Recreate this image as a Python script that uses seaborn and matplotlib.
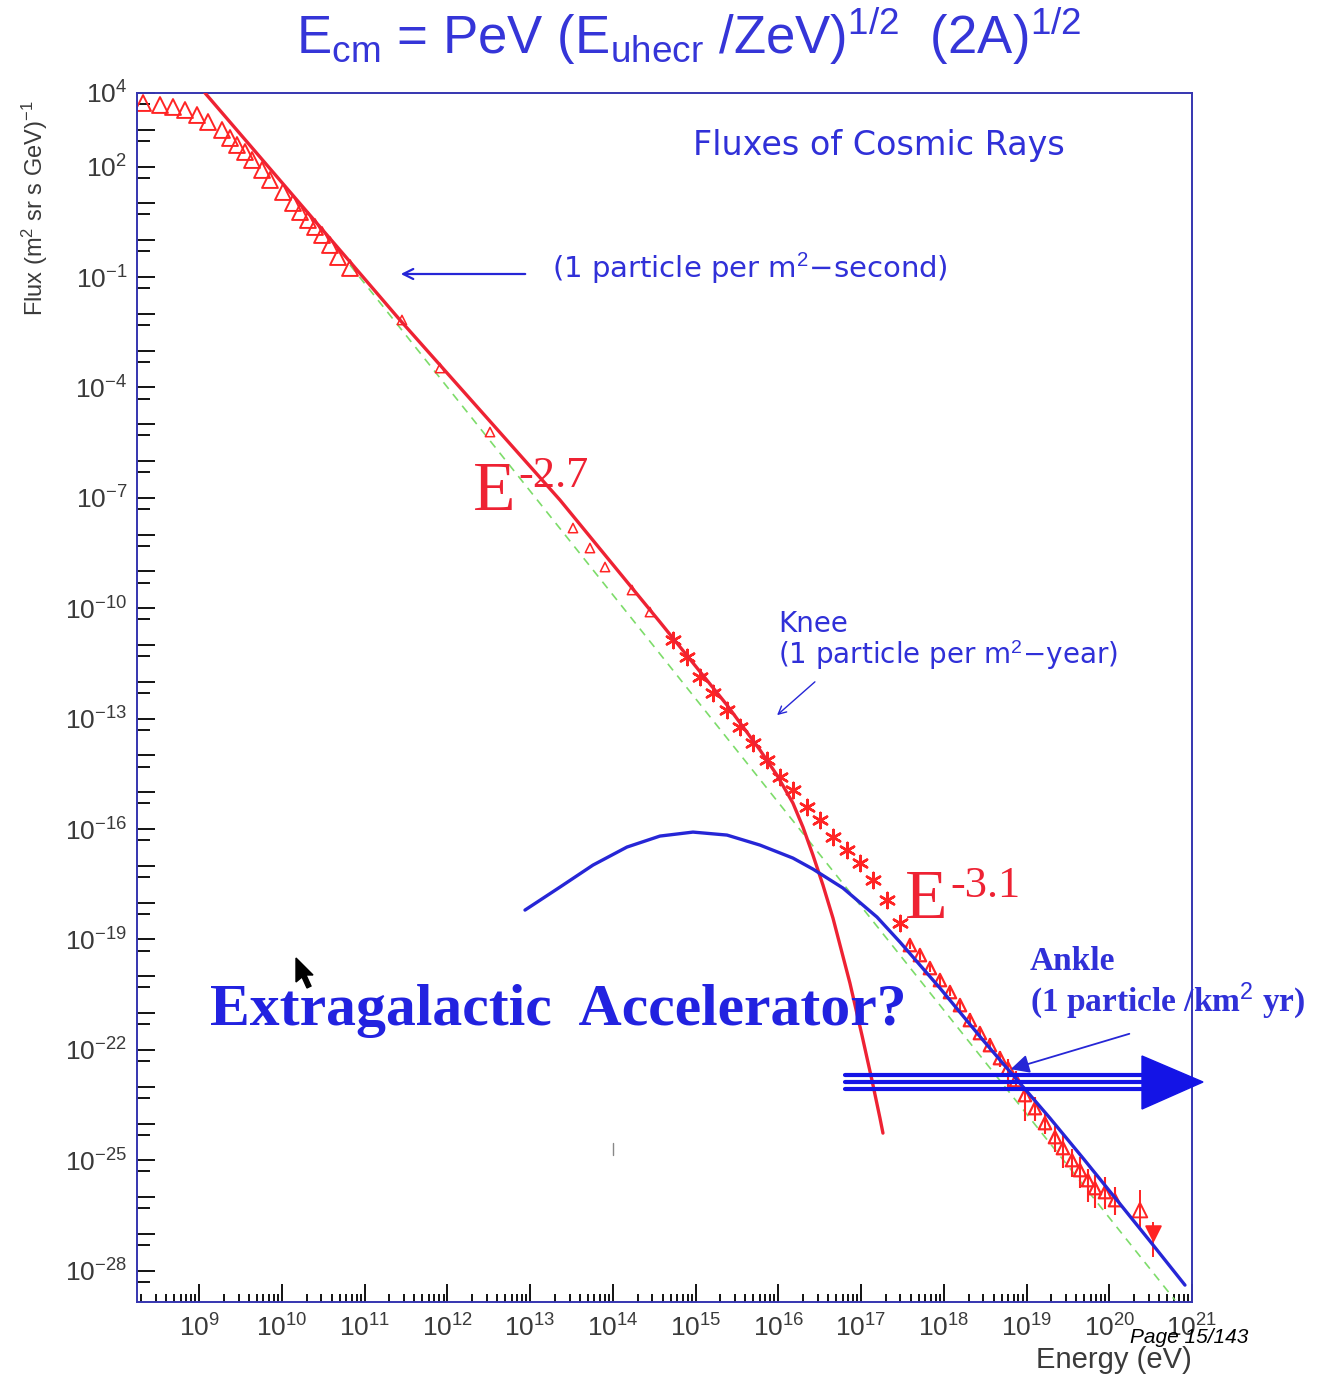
import numpy as np
import pandas as pd
import matplotlib
matplotlib.use("Agg")
import matplotlib.pyplot as plt
import seaborn as sns
from matplotlib.ticker import FixedLocator, FixedFormatter
from matplotlib.patches import Polygon
from matplotlib.lines import Line2D

# ---------------- data (log10 of energy [eV] and flux) ----------------
low_tri_logE = [8.323, 8.528, 8.685, 8.830, 8.975, 9.108, 9.277, 9.374, 9.458, 9.555,
                9.640, 9.761, 9.857, 10.014, 10.135, 10.220, 10.316, 10.401, 10.486,
                10.582, 10.679, 10.824]
low_tri_logF = [3.728, 3.674, 3.620, 3.538, 3.402, 3.212, 2.995, 2.777, 2.587, 2.397,
                2.179, 1.908, 1.636, 1.310, 1.011, 0.766, 0.549, 0.359, 0.141,
                -0.130, -0.457, -0.755]

mid_tri_logE = [11.452, 11.912, 12.516, 13.519, 13.724, 13.906, 14.232, 14.449]
mid_tri_logF = [-2.168, -3.473, -5.212, -7.821, -8.364, -8.880, -9.505, -10.103]

knee_logE = [14.727, 14.897, 15.054, 15.211, 15.380, 15.537, 15.694, 15.863, 16.020,
             16.177, 16.347, 16.504, 16.661, 16.830, 16.987, 17.144, 17.313, 17.471]
knee_logF = [-10.864, -11.326, -11.870, -12.304, -12.766, -13.228, -13.663, -14.125,
             -14.587, -14.940, -15.402, -15.755, -16.217, -16.571, -16.924, -17.386,
             -17.929, -18.554]

ankle_logE = [17.591, 17.712, 17.833, 17.954, 18.075, 18.196, 18.316, 18.437, 18.558,
              18.679, 18.776, 18.872, 18.981, 19.102, 19.223, 19.344, 19.440, 19.549,
              19.646, 19.742, 19.827, 19.948, 20.069]
ankle_logF = [-19.152, -19.424, -19.777, -20.103, -20.429, -20.783, -21.190, -21.543,
              -21.870, -22.223, -22.495, -22.821, -23.228, -23.582, -23.989, -24.370,
              -24.668, -24.995, -25.266, -25.538, -25.755, -25.864, -26.082]
ankle_err_lo = [0.10, 0.12, 0.10, 0.15, 0.12, 0.18, 0.15, 0.20, 0.18, 0.25, 0.50, 0.30,
                0.70, 0.35, 0.30, 0.40, 0.55, 0.45, 0.50, 0.60, 0.55, 0.45, 0.40]
ankle_err_hi = [0.10, 0.10, 0.12, 0.12, 0.15, 0.12, 0.18, 0.15, 0.20, 0.20, 0.25, 0.25,
                0.20, 0.30, 0.25, 0.30, 0.35, 0.30, 0.35, 0.30, 0.35, 0.40, 0.35]

end_up_logE, end_up_logF, end_up_lo, end_up_hi = [20.371], [-26.353], [0.46], [0.54]
end_dn_logE, end_dn_logF, end_dn_lo, end_dn_hi = [20.528], [-26.978], [0.65], [0.30]

galactic_fit_logE = [9.072, 11.428, 13.362, 14.570, 15.380, 15.779, 15.984, 16.177,
                     16.298, 16.419, 16.540, 16.661, 16.866, 17.011, 17.132, 17.229, 17.265]
galactic_fit_logF = [4.0, -2.168, -7.060, -10.375, -12.630, -13.853, -14.533, -15.293,
                     -15.946, -16.707, -17.522, -18.418, -20.185, -21.598, -22.821,
                     -23.853, -24.261]

extragal_logE = [12.939, 13.362, 13.761, 14.171, 14.570, 14.969, 15.380, 15.779, 16.177,
                 16.419, 16.782, 17.193, 17.471, 17.954, 18.474, 18.836, 19.283, 19.682,
                 20.093, 20.492, 20.915]
extragal_logF = [-18.201, -17.576, -16.978, -16.489, -16.190, -16.082, -16.163, -16.435,
                 -16.788, -17.087, -17.603, -18.391, -19.071, -20.321, -21.734, -22.685,
                 -23.853, -24.940, -26.082, -27.196, -28.391]

overall_fit_logE = [10.824, 20.794]
overall_fit_logF = [-0.674, -28.799]

x_tick_exps = list(range(9, 22))
y_label_exps = [4, 2, -1, -4, -7, -10, -13, -16, -19, -22, -25, -28]

# ---------------- style ----------------
sns.set_style("white")
plt.rcParams['font.family'] = ['Liberation Sans', 'DejaVu Sans']
plt.rcParams['mathtext.fontset'] = 'custom'
plt.rcParams['mathtext.rm'] = 'Liberation Sans'
plt.rcParams['mathtext.it'] = 'Liberation Sans:italic'
plt.rcParams['mathtext.bf'] = 'Liberation Sans:bold'

RED = '#ff2424'
RED_LINE = '#ee2233'
BLUE = '#2626d6'
TXT_BLUE = '#3030d8'
GREEN = '#7ddc6a'
TICK_TXT = '#3a3a3a'

W, H = 1342, 1374
fig = plt.figure(figsize=(W / 100, H / 100), dpi=100)
fig.patch.set_facecolor('white')


def fx(x):
    return x / W


def fy(y):
    return 1 - y / H


ax = fig.add_axes([fx(137), fy(1302), (1192 - 137) / W, (1302 - 93) / H])
ax.set_xscale('log')
ax.set_yscale('log')
ax.set_xlim(10 ** 8.25, 10 ** 21.0)
ax.set_ylim(10 ** -28.85, 10 ** 4)


def p10(a):
    return np.power(10.0, np.asarray(a, dtype=float))


# green dashed overall power law
sns.lineplot(x=p10(overall_fit_logE), y=p10(overall_fit_logF), ax=ax, color=GREEN,
             lw=1.2, linestyle=(0, (5, 4)), sort=False, estimator=None, zorder=1)

# data points
df_low = pd.DataFrame({'E': p10(low_tri_logE), 'F': p10(low_tri_logF)})
sns.scatterplot(data=df_low, x='E', y='F', ax=ax, marker='^', s=130,
                facecolor='none', edgecolor=RED, linewidth=1.4, zorder=2)
df_mid = pd.DataFrame({'E': p10(mid_tri_logE), 'F': p10(mid_tri_logF)})
sns.scatterplot(data=df_mid, x='E', y='F', ax=ax, marker='^', s=45,
                facecolor='none', edgecolor=RED, linewidth=1.1, zorder=2)
df_knee = pd.DataFrame({'E': p10(knee_logE), 'F': p10(knee_logF)})
sns.scatterplot(data=df_knee, x='E', y='F', ax=ax, marker=(6, 2, 0), s=120,
                color=RED, linewidth=1.8, zorder=2)

aE, aF = p10(ankle_logE), p10(ankle_logF)
ax.errorbar(aE, aF, yerr=[aF - aF * p10(-np.array(ankle_err_lo)),
                          aF * p10(ankle_err_hi) - aF],
            fmt='none', ecolor=RED, elinewidth=1.5, capsize=0, zorder=2)
df_ank = pd.DataFrame({'E': aE, 'F': aF})
sns.scatterplot(data=df_ank, x='E', y='F', ax=ax, marker='^', s=80,
                facecolor='none', edgecolor=RED, linewidth=1.6, zorder=2)

for le, lf, lo, hi, mk, fc in [(end_up_logE, end_up_logF, end_up_lo, end_up_hi, '^', 'none'),
                               (end_dn_logE, end_dn_logF, end_dn_lo, end_dn_hi, 'v', RED)]:
    e, f = p10(le), p10(lf)
    ax.errorbar(e, f, yerr=[f - f * p10(-np.array(lo)), f * p10(hi) - f],
                fmt='none', ecolor=RED, elinewidth=1.4, capsize=0, zorder=2)
    sns.scatterplot(x=e, y=f, ax=ax, marker=mk, s=110, facecolor=fc,
                    edgecolor=RED, linewidth=1.4, zorder=2)

# model curves
sns.lineplot(x=p10(galactic_fit_logE), y=p10(galactic_fit_logF), ax=ax, color=RED_LINE,
             lw=2.4, sort=False, estimator=None, zorder=3)
sns.lineplot(x=p10(extragal_logE), y=p10(extragal_logF), ax=ax, color=BLUE,
             lw=2.4, sort=False, estimator=None, zorder=4)

# ---------------- axes & ticks ----------------
for sp in ax.spines.values():
    sp.set_color('#3535b0')
    sp.set_linewidth(1.4)

ax.xaxis.set_major_locator(FixedLocator([10.0 ** k for k in x_tick_exps]))
ax.xaxis.set_major_formatter(FixedFormatter([r'$10^{%d}$' % k for k in x_tick_exps]))
ax.xaxis.set_minor_locator(FixedLocator([m * 10.0 ** k for k in range(8, 21) for m in range(2, 10)]))

y_major = list(range(4, -29, -1))
ax.yaxis.set_major_locator(FixedLocator([10.0 ** k for k in y_major]))
ax.yaxis.set_major_formatter(FixedFormatter(
    [(r'$10^{%d}$' % k) if k in y_label_exps else '' for k in y_major]))
ax.yaxis.set_minor_locator(FixedLocator([5 * 10.0 ** k for k in range(-29, 4)]))

ax.tick_params(which='both', direction='in', color='black', width=1.3,
               labelcolor=TICK_TXT, labelsize=19, left=True, bottom=True,
               right=False, top=False)
ax.tick_params(axis='y', which='major', length=13, pad=7)
ax.tick_params(axis='y', which='minor', length=9)
ax.tick_params(axis='x', which='major', length=13, pad=9)
ax.tick_params(axis='x', which='minor', length=6)
ax.set_xlabel('')
ax.set_ylabel('')

# axis titles
fig.text(fx(35), fy(208), r'Flux (m$^2$ sr s GeV)$^{-1}$', rotation=90, ha='center',
         va='center', fontsize=17, color=TICK_TXT)
fig.text(fx(1192), fy(1368), 'Energy (eV)', ha='right', va='baseline', fontsize=21,
         color=TICK_TXT)
fig.text(fx(1130), fy(1343), 'Page 15/143', ha='left', va='baseline', fontsize=15,
         style='italic', color='black')

# title
fig.text(fx(689), fy(54),
         r'E$_{\mathregular{cm}}$ = PeV (E$_{\mathregular{uhecr}}$ /ZeV)$^{\mathregular{1/2}}$  (2A)$^{\mathregular{1/2}}$',
         ha='center', va='baseline', fontsize=38, color='#3535d8')

# annotations
fig.text(fx(693), fy(145), 'Fluxes of Cosmic Rays', ha='left', va='center', fontsize=24,
         color=TXT_BLUE, family='DejaVu Sans')
fig.text(fx(552), fy(268), '(1 particle per m$^{2}$\u2212second)', ha='left', va='center',
         fontsize=21, color=TXT_BLUE, family='DejaVu Sans')
ax.annotate('', xy=(fx(398), fy(274)), xytext=(fx(528), fy(274)),
            xycoords='figure fraction', textcoords='figure fraction',
            arrowprops=dict(arrowstyle='->', color=BLUE, lw=1.6, mutation_scale=18))
fig.text(fx(778), fy(624), 'Knee', ha='left', va='center', fontsize=20,
         color=TXT_BLUE, family='DejaVu Sans')
fig.text(fx(778), fy(655), '(1 particle per m$^{2}$\u2212year)', ha='left', va='center',
         fontsize=20, color=TXT_BLUE, family='DejaVu Sans')
ax.annotate('', xy=(fx(775), fy(717)), xytext=(fx(817), fy(680)),
            xycoords='figure fraction', textcoords='figure fraction',
            arrowprops=dict(arrowstyle='->', color=BLUE, lw=1.0, mutation_scale=14))

fig.text(fx(473), fy(510), 'E', ha='left', va='baseline', fontsize=50,
         color=RED_LINE, family='Liberation Serif')
fig.text(fx(518), fy(487), '-2.7', ha='left', va='baseline', fontsize=32,
         color=RED_LINE, family='Liberation Serif')
fig.text(fx(905), fy(918), 'E', ha='left', va='baseline', fontsize=50,
         color=RED_LINE, family='Liberation Serif')
fig.text(fx(950), fy(897), '-3.1', ha='left', va='baseline', fontsize=32,
         color=RED_LINE, family='Liberation Serif')

fig.text(fx(210), fy(1025), 'Extragalactic  Accelerator?', ha='left', va='baseline',
         fontsize=43, fontweight='bold', color='#2222e0', family='Liberation Serif')
fig.text(fx(1030), fy(970), 'Ankle', ha='left', va='baseline', fontsize=24,
         fontweight='bold', color=TXT_BLUE, family='Liberation Serif')
fig.text(fx(1030), fy(1011), '(1 particle /km$^{2}$ yr)', ha='left', va='baseline',
         fontsize=24, fontweight='bold', color=TXT_BLUE, family='Liberation Serif')
ax.annotate('', xy=(fx(1008), fy(1070)), xytext=(fx(1132), fy(1033)),
            xycoords='figure fraction', textcoords='figure fraction',
            arrowprops=dict(arrowstyle='-|>', color=BLUE, lw=1.3, mutation_scale=28))

# big triple arrow
for yy in (1075, 1082, 1089):
    fig.add_artist(Line2D([fx(845), fx(1150)], [fy(yy), fy(yy)], color='#1414e6', lw=3.0,
                          transform=fig.transFigure, zorder=6))
fig.add_artist(Polygon([[fx(1142), fy(1056)], [fx(1142), fy(1109)], [fx(1203), fy(1082)]],
                       closed=True, color='#1414e6', transform=fig.transFigure, zorder=6))

# mouse pointer and small mark
fig.add_artist(Polygon([[fx(296), fy(958)], [fx(296), fy(982)], [fx(302), fy(977)],
                        [fx(307), fy(988)], [fx(311), fy(986)], [fx(306), fy(975)],
                        [fx(313), fy(975)]], closed=True, color='black',
                       transform=fig.transFigure, zorder=7))
fig.add_artist(Line2D([fx(613), fx(613)], [fy(1143), fy(1155)], color='#888888', lw=1.0,
                      transform=fig.transFigure))

fig.savefig('out.png', dpi=100, facecolor='white')
